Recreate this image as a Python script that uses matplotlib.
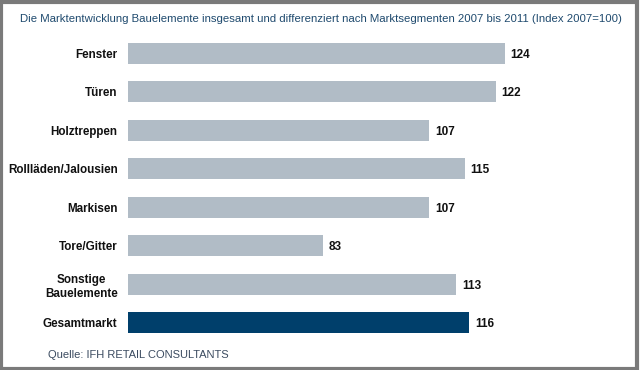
import matplotlib
matplotlib.use("Agg")
import matplotlib.pyplot as plt
from matplotlib.patches import Rectangle

categories = ["Fenster", "Türen", "Holztreppen", "Rollläden/Jalousien",
              "Markisen", "Tore/Gitter", "Sonstige\nBauelemente", "Gesamtmarkt"]
values = [124, 122, 107, 115, 107, 83, 113, 116]

plt.rcParams['font.family'] = ['Liberation Sans', 'DejaVu Sans']

fig = plt.figure(figsize=(6.4, 3.7), dpi=100)
ax = fig.add_axes([128 / 640, 1 - 342 / 370, (620 - 128) / 640, 308 / 370])

colors = ['#b1bcc6'] * (len(values) - 1) + ['#003f6b']
ypos = list(range(len(values)))
ax.barh(ypos, values, height=0.55, color=colors)
ax.set_xlim(39, 150)
ax.set_ylim(len(values) - 0.5, -0.5)

# value labels right of bars
for y, v in zip(ypos, values):
    ax.text(v + 1.3, y, str(v), va='center_baseline', ha='left', fontsize=8.5,
            fontweight='bold', color='#111111')

ax.set_yticks(ypos)
ax.set_yticklabels(categories, fontsize=8.4, fontweight='bold', color='#111111',
                   multialignment='center')
ax.tick_params(axis='y', length=0, pad=7.5)
ax.set_xticks([])
for s in ax.spines.values():
    s.set_visible(False)

fig.text(20 / 640, 1 - 19 / 370, "Die Marktentwicklung Bauelemente insgesamt und differenziert nach "
         "Marktsegmenten 2007 bis 2011 (Index 2007=100)",
         fontsize=8.2, color='#1f4a6e', va='center', ha='left')
fig.text(48 / 640, 1 - 355 / 370, "Quelle: IFH RETAIL CONSULTANTS",
         fontsize=8, color='#3b4b60', va='center', ha='left')

# grey frame around the whole picture
fig.patches.append(Rectangle((0.002, 0.003), 0.994, 0.992, transform=fig.transFigure,
                             fill=False, edgecolor='#7a7a7a', linewidth=3))

fig.savefig("out.png", dpi=100)
